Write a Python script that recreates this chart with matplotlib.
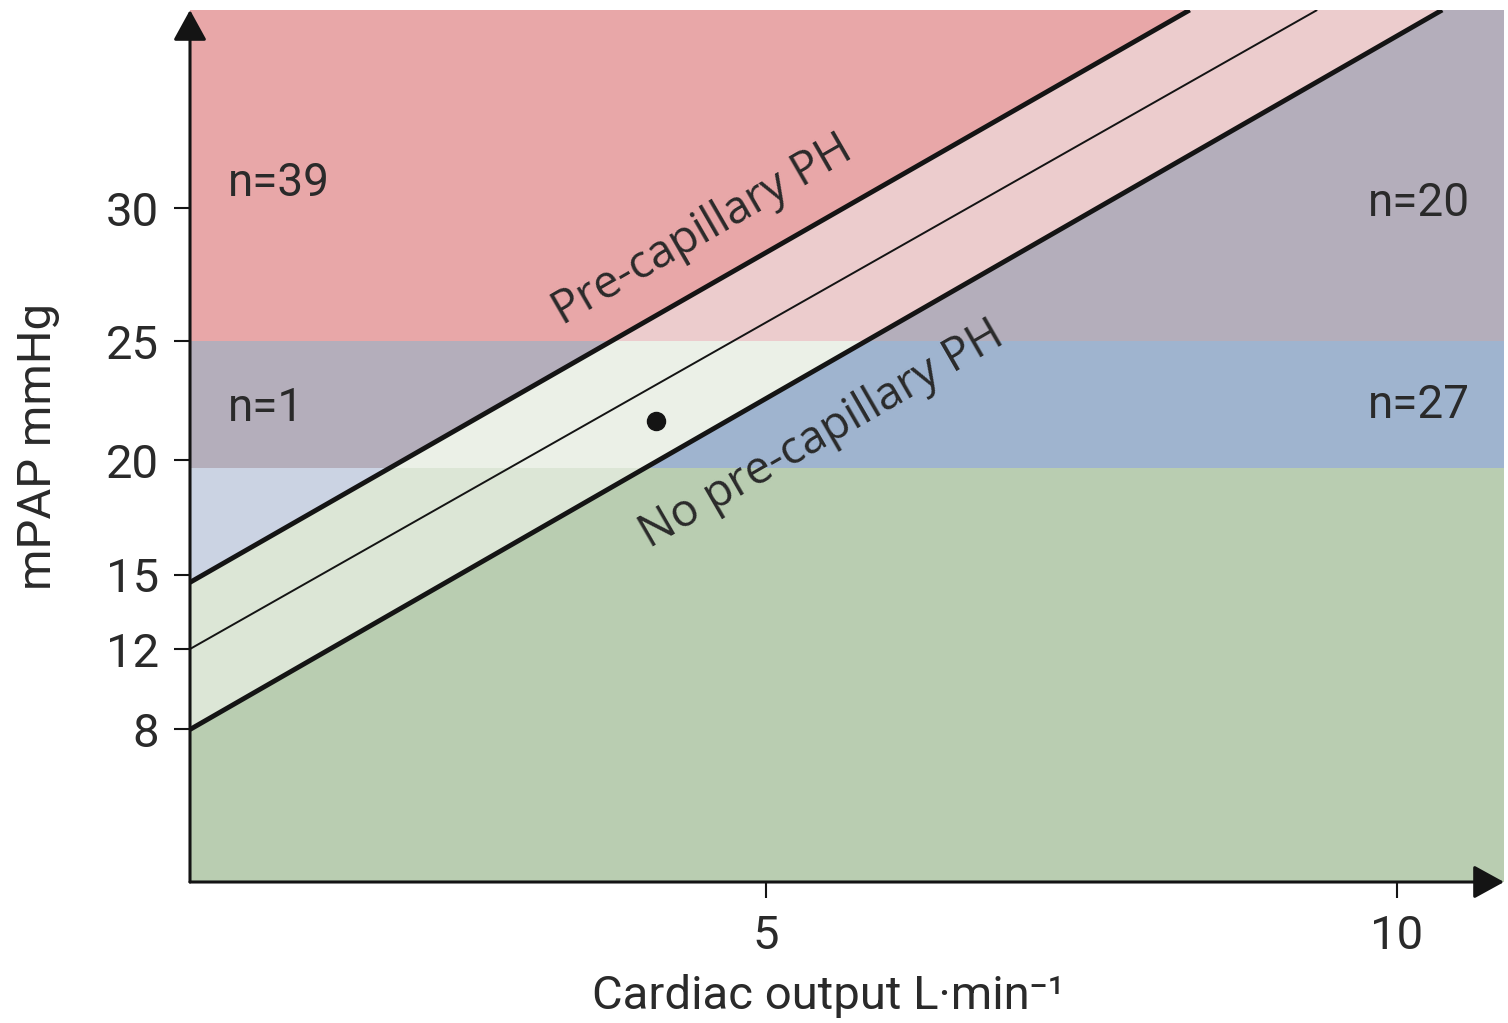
import numpy as np
import matplotlib
matplotlib.use("Agg")
import matplotlib.pyplot as plt
from matplotlib.patches import Polygon

plt.rcParams["font.family"] = ["Roboto", "DejaVu Sans"]

# ---------------- data ----------------
mpap_ticks = [8, 12, 15, 20, 25, 30]            # mmHg
co_ticks = [5, 10]                              # L/min
co_range = [0.44, 10.85]
mpap_range = [0.0, 37.5]

# horizontal thresholds separating the mPAP bands
mpap_band_edges = [19.65, 25.0]

# resistance isolines: mPAP at the left edge, cardiac output where they leave the top
iso_names = ["upper", "middle", "lower"]
iso_mpap_start = [14.7, 12.0, 8.0]
iso_co_end = [8.36, 9.37, 10.36]

# single patient marker
patient_co = [4.13]
patient_mpap = [21.65]

group_labels = ["n=39", "n=1", "n=20", "n=27"]
region_labels = ["Pre-capillary PH", "No pre-capillary PH"]

# ---------------- schematic (stretched) mPAP scale ----------------
scale_vals = [-1000.0, 0.0, 8.0, 12.0, 15.0, 20.0, 25.0, 30.0, 37.5, 1000.0]
scale_pos = [-21.86, 0.0, 0.1749, 0.2672, 0.3521, 0.4839, 0.6204, 0.7729, 1.0, 29.16]


def fwd(v):
    return np.interp(v, scale_vals, scale_pos)


def inv(p):
    return np.interp(p, scale_pos, scale_vals)


# ---------------- figure ----------------
fig = plt.figure(figsize=(15.08, 10.23), dpi=100)
ax = fig.add_axes([190 / 1508, (1023 - 882) / 1023, (1504 - 190) / 1508, (882 - 10) / 1023])
ax.set_yscale("function", functions=(fwd, inv))
ax.set_xlim(*co_range)
ax.set_ylim(*mpap_range)
ax.set_facecolor("none")

x0, x1 = co_range
y0, y1 = mpap_range
up_y0, mid_y0, lo_y0 = iso_mpap_start
up_x1, mid_x1, lo_x1 = iso_co_end

# zones delimited by the two thick isolines
zones = {
    "left": [(x0, up_y0), (up_x1, y1), (x0, y1)],
    "mid": [(x0, lo_y0), (x0, up_y0), (up_x1, y1), (lo_x1, y1)],
    "right": [(x0, y0), (x0, lo_y0), (lo_x1, y1), (x1, y1), (x1, y0)],
}
zone_colors = {
    "left": ["#CBD3E3", "#B4AEBB", "#E8A7A8"],
    "mid": ["#DCE6D6", "#EBF0E7", "#ECCCCD"],
    "right": ["#B9CDB1", "#9FB4CF", "#B4AEBB"],
}
band_limits = [y0] + mpap_band_edges + [y1]

for name, verts in zones.items():
    clip = Polygon(verts, closed=True, transform=ax.transData)
    for i in range(3):
        span = ax.axhspan(band_limits[i], band_limits[i + 1],
                          color=zone_colors[name][i], lw=0, zorder=0.5,
                          antialiased=False)
        span.set_clip_path(clip)

# isolines
iso_widths = [3.5, 1.4, 3.5]
for ys, xe, lw in zip(iso_mpap_start, iso_co_end, iso_widths):
    ax.plot([x0, xe], [ys, y1], color="#141414", lw=lw,
            solid_capstyle="butt", zorder=3)

ax.plot(patient_co, patient_mpap, "o", ms=13, color="#141414", zorder=4)

# group counts
txt_kw = dict(fontsize=33, color="#2a2a2a", transform=ax.transAxes,
              va="center", zorder=5)
ax.text(0.0289, 0.8016, group_labels[0], ha="left", **txt_kw)
ax.text(0.0289, 0.5436, group_labels[1], ha="left", **txt_kw)
ax.text(0.9740, 0.7787, group_labels[2], ha="right", **txt_kw)
ax.text(0.9740, 0.5470, group_labels[3], ha="right", **txt_kw)

# region captions along the isolines
cap_kw = dict(fontsize=33, color="#2a2a2a", transform=ax.transAxes,
              rotation=30, rotation_mode="anchor", ha="center", va="center",
              family=["Open Sans", "DejaVu Sans"], zorder=5)
ax.text(0.3904, 0.7466, region_labels[0], **cap_kw)
ax.text(0.4810, 0.5130, region_labels[1], **cap_kw)

# axes with arrow heads
for sp in ax.spines.values():
    sp.set_visible(False)
arrow_kw = dict(arrowstyle="-|>,head_length=0.4,head_width=0.22",
                lw=2.2, color="#141414", mutation_scale=47,
                shrinkA=0, shrinkB=0)
ax.annotate("", xy=(0, 1), xytext=(0, 0), xycoords="axes fraction",
            textcoords="axes fraction", arrowprops=arrow_kw, zorder=6,
            annotation_clip=False)
ax.annotate("", xy=(1, 0), xytext=(0, 0), xycoords="axes fraction",
            textcoords="axes fraction", arrowprops=arrow_kw, zorder=6,
            annotation_clip=False)

ax.set_xticks(co_ticks)
ax.set_xticklabels([str(t) for t in co_ticks])
ax.set_yticks(mpap_ticks)
ax.set_yticklabels([str(t) for t in mpap_ticks])
ax.minorticks_off()
ax.tick_params(axis="both", direction="out", length=11.5, width=1.5,
               color="#141414", labelsize=34, labelcolor="#2a2a2a")
ax.tick_params(axis="y", pad=11)
ax.tick_params(axis="x", pad=11.5)

ax.set_xlabel("Cardiac output L·min⁻¹", fontsize=34, color="#2a2a2a")
ax.xaxis.set_label_coords(0.486, -0.105)
ax.set_ylabel("mPAP mmHg", fontsize=34, color="#2a2a2a")
ax.yaxis.set_label_coords(-0.099, 0.5)

fig.savefig("out.png", dpi=100)
